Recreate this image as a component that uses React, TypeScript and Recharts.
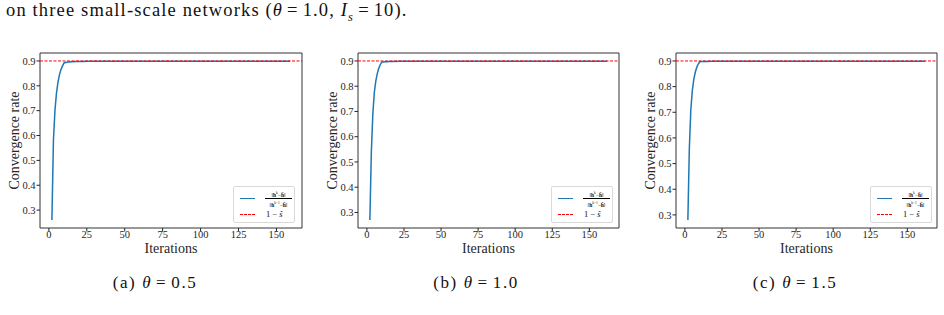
import { LineChart, Line, XAxis, YAxis, ReferenceLine, ReferenceArea, Legend } from 'recharts';

const SERIF = '"Liberation Serif", "Times New Roman", serif';
const BLUE = '#1f77b4';
const RED = '#ff0000';
const INK = '#262626';

// iteration index / convergence rate ||h^k - h|| / ||h^(k-1) - h||
const iterA = [2, 3, 4, 5, 6, 7, 8, 9, 10, 11, 12, 13, 15, 18, 22, 26, 30, 40, 60, 80, 100, 120, 140, 159];
const rateA = [0.26, 0.58, 0.7, 0.77, 0.815, 0.845, 0.866, 0.88, 0.892, 0.894, 0.895, 0.896, 0.897, 0.8975, 0.898, 0.8985, 0.899, 0.899, 0.899, 0.899, 0.899, 0.899, 0.899, 0.899];

const iterB = [2, 3, 4, 5, 6, 7, 8, 9, 10, 11, 12, 13, 15, 18, 22, 26, 30, 40, 60, 80, 100, 120, 140, 162];
const rateB = [0.27, 0.54, 0.69, 0.775, 0.82, 0.85, 0.871, 0.885, 0.895, 0.896, 0.897, 0.897, 0.898, 0.898, 0.8985, 0.899, 0.899, 0.899, 0.899, 0.899, 0.899, 0.899, 0.899, 0.899];

const iterC = [2, 3, 4, 5, 6, 7, 8, 9, 10, 11, 12, 13, 15, 18, 22, 26, 30, 40, 60, 80, 100, 120, 140, 162];
const rateC = [0.28, 0.56, 0.71, 0.785, 0.828, 0.856, 0.875, 0.888, 0.897, 0.8975, 0.898, 0.898, 0.898, 0.8985, 0.899, 0.899, 0.899, 0.899, 0.899, 0.899, 0.899, 0.899, 0.899, 0.899];

const target = 0.9; // 1 - s
const xTicks = [0, 25, 50, 75, 100, 125, 150];
const yTicks = [0.3, 0.4, 0.5, 0.6, 0.7, 0.8, 0.9];
const panelTags = ['(a)', '(b)', '(c)'];
const thetas = ['0.5', '1.0', '1.5'];

// matplotlib-like 5% autoscale margin
function pad(lo: number, hi: number): [number, number] {
  const m = (hi - lo) * 0.05;
  return [lo - m, hi + m];
}

// relation sign with TeX-like spacing
const Eq = () => <span style={{ margin: '0 4px' }}>=</span>;

function RateLegend() {
  return (
    <div
      style={{
        position: 'relative',
        width: 62,
        height: 37,
        boxSizing: 'border-box',
        border: '1px solid #d9d9d9',
        borderRadius: 2,
        background: 'rgba(255,255,255,0.85)',
        fontFamily: SERIF,
        color: '#111',
      }}
    >
      <div style={{ position: 'absolute', left: 6, top: 10.5, width: 15, height: 0, borderTop: `1.5px solid ${BLUE}` }} />
      <div style={{ position: 'absolute', left: 31, top: 3, width: 27, fontSize: 5.5, lineHeight: '6px', textAlign: 'center' }}>
        <div style={{ borderBottom: '0.8px solid #000', paddingBottom: 0.5 }}>
          ‖<b>h</b>
          <span style={{ fontSize: 3.5, verticalAlign: 'super' }}>k</span>−<b>h̄</b>‖
        </div>
        <div style={{ paddingTop: 0.5 }}>
          ‖<b>h</b>
          <span style={{ fontSize: 3.5, verticalAlign: 'super' }}>k−1</span>−<b>h̄</b>‖
        </div>
      </div>
      <div style={{ position: 'absolute', left: 6, top: 27, width: 15, height: 0, borderTop: `1px dashed ${RED}` }} />
      <div style={{ position: 'absolute', left: 32, top: 22, fontSize: 8.5, whiteSpace: 'nowrap' }}>
        1 − <i>ŝ</i>
      </div>
    </div>
  );
}

type PanelProps = {
  iters: number[];
  rates: number[];
  left: number;
  width: number;
  right: number;
  legendLeft: number;
};

function Panel({ iters, rates, left, width, right, legendLeft }: PanelProps) {
  const data = iters.map((k, i) => ({ k, rate: rates[i] }));
  const xDomain = pad(Math.min(...iters), Math.max(...iters));
  const yDomain = pad(Math.min(...rates), target);
  const tick = { fontSize: 10.5, fill: INK, fontFamily: SERIF };

  return (
    <div style={{ position: 'absolute', left, top: 40 }}>
      <LineChart width={width} height={220} data={data} margin={{ top: 13, right, bottom: 0, left: 0 }}>
        <XAxis
          dataKey="k"
          type="number"
          domain={xDomain}
          ticks={xTicks}
          allowDataOverflow
          height={32}
          axisLine={false}
          tickLine={{ stroke: INK }}
          tickSize={3.5}
          tickMargin={0}
          tick={{ ...tick, dy: -1 }}
          label={{ value: 'Iterations', position: 'insideBottom', offset: 7.5, fontSize: 14, fill: INK, fontFamily: SERIF }}
        />
        <YAxis
          type="number"
          domain={yDomain}
          ticks={yTicks}
          allowDataOverflow
          width={40}
          axisLine={false}
          tickLine={{ stroke: INK }}
          tickSize={3.5}
          tickMargin={1}
          tick={tick}
          tickFormatter={(v: number) => v.toFixed(1)}
          label={{ value: 'Convergence rate', angle: -90, position: 'center', dx: -6, fontSize: 14, fill: INK, fontFamily: SERIF }}
        />
        <ReferenceArea
          x1={xDomain[0]}
          x2={xDomain[1]}
          y1={yDomain[0]}
          y2={yDomain[1]}
          ifOverflow="visible"
          fill="none"
          stroke="#333"
          strokeWidth={1}
        />
        <Line type="linear" dataKey="rate" stroke={BLUE} strokeWidth={1.5} dot={false} isAnimationActive={false} />
        <ReferenceLine y={target} stroke={RED} strokeWidth={1} strokeDasharray="3 1.5" />
        <Legend
          layout="vertical"
          align="center"
          verticalAlign="middle"
          content={() => <RateLegend />}
          wrapperStyle={{ left: legendLeft, top: 146, width: 62, height: 37 }}
        />
      </LineChart>
    </div>
  );
}

export default function App() {
  const captionCenters = [155, 476, 795];
  return (
    <div
      style={{
        position: 'absolute',
        left: 0,
        top: 0,
        width: 944,
        height: 315,
        background: '#fff',
        fontFamily: SERIF,
        color: '#111',
        overflow: 'hidden',
      }}
    >
      <div
        style={{
          position: 'absolute',
          left: 6,
          top: 0,
          fontSize: 18.5,
          letterSpacing: 1.15,
          whiteSpace: 'nowrap',
          lineHeight: '20px',
        }}
      >
        on three small-scale networks (<i>θ</i>
        <Eq />
        1.0, <i>I</i>
        <sub style={{ fontSize: 12.5, lineHeight: 0 }}>
          <i>s</i>
        </sub>
        <Eq />
        10).
      </div>

      <Panel iters={iterA} rates={rateA} left={0} width={310} right={8} legendLeft={233} />
      <Panel iters={iterB} rates={rateB} left={318} width={310} right={9} legendLeft={233} />
      <Panel iters={iterC} rates={rateC} left={636} width={308} right={7} legendLeft={234} />

      {panelTags.map((tag, i) => (
        <div
          key={tag}
          style={{
            position: 'absolute',
            left: captionCenters[i] - 60,
            width: 120,
            top: 274,
            textAlign: 'center',
            fontSize: 17,
            letterSpacing: 1.6,
            lineHeight: '18px',
            whiteSpace: 'nowrap',
          }}
        >
          {tag} <i>θ</i>
          <Eq />
          {thetas[i]}
        </div>
      ))}
    </div>
  );
}
